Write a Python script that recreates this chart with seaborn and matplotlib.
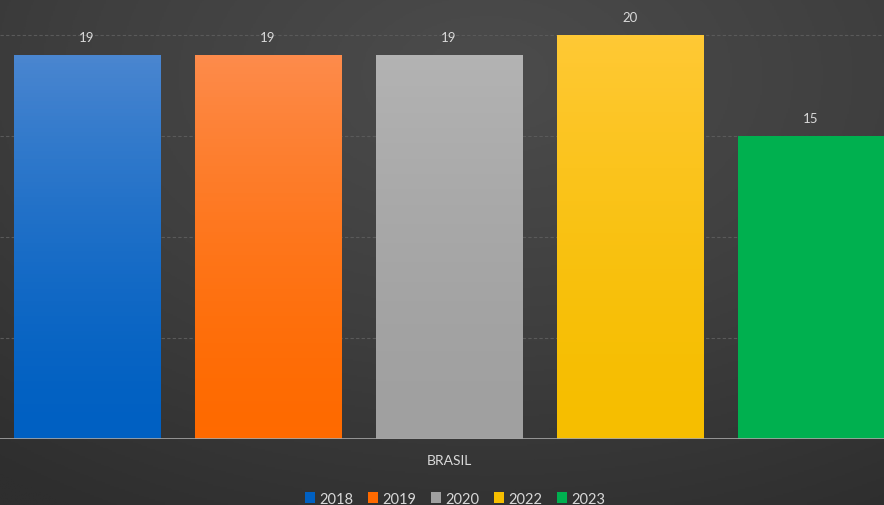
import numpy as np
import pandas as pd
import matplotlib
matplotlib.use("Agg")
import matplotlib.pyplot as plt
import matplotlib.colors as mcolors
import seaborn as sns

# donnees
pays = ["BRASIL"]
anos = ["2018", "2019", "2020", "2022", "2023"]
valores = [19, 19, 19, 20, 15]
cores_topo = ["#4a86d0", "#fd8b4b", "#b3b3b3", "#ffc935", "#00b04f"]
cores_base = ["#0060c2", "#ff6a00", "#a0a0a0", "#f6be00", "#00b050"]

df = pd.DataFrame({"pais": pays * len(anos), "ano": anos, "valor": valores})

sns.set_theme(style="dark")
plt.rcParams["font.family"] = ["Lato", "DejaVu Sans"]

fig = plt.figure(figsize=(8.84, 5.06), dpi=100)

# fond en degrade radial
bg = fig.add_axes([0, 0, 1, 1], zorder=-10)
yy, xx = np.mgrid[0:1:300j, 0:1:500j]
r = np.sqrt(((xx - 0.55) / 0.9) ** 2 + ((yy - 0.85) / 1.0) ** 2)
r = np.clip(r, 0, 1)
cmap_bg = mcolors.LinearSegmentedColormap.from_list("bg", ["#4c4c4c", "#3f3f3f", "#2e2e2e"])
bg.imshow(r, cmap=cmap_bg, origin="lower", aspect="auto", extent=[0, 1, 0, 1])
bg.axis("off")

ax = fig.add_axes([0, 66 / 506, 1, 438.3 / 506])
ax.patch.set_alpha(0)

sns.barplot(data=df, x="pais", y="valor", hue="ano", palette=cores_base,
            width=0.8, gap=0.19, ax=ax, saturation=1)

# degrade vertical dans chaque barre
for i, cont in enumerate(ax.containers):
    cm = mcolors.LinearSegmentedColormap.from_list("b%d" % i, [cores_base[i], cores_topo[i]])
    for p in cont.patches:
        x0, y0 = p.get_x(), p.get_y()
        w, h = p.get_width(), p.get_height()
        grad = np.linspace(0, 1, 100).reshape(-1, 1) ** 1.5
        ax.imshow(grad, cmap=cm, origin="lower", aspect="auto",
                  extent=[x0, x0 + w, y0, y0 + h], zorder=2)
        p.set_edgecolor("none")
    ax.bar_label(cont, padding=9, color="#d9d9d9", fontsize=9.5, zorder=3)
ax.set_xlim(-0.397, 0.3846)
ax.set_ylim(0, 21.7)

for v in [5, 10, 15, 20]:
    ax.axhline(v, color="#5a5a5a", lw=0.8, ls=(0, (3, 2)), zorder=1)
ax.axhline(0, color="#a6a6a6", lw=1.2, zorder=4)

ax.grid(False)
for s in ax.spines.values():
    s.set_visible(False)
ax.set_yticks([])
ax.set_xlabel("")
ax.set_ylabel("")
ax.tick_params(axis="x", length=0, pad=11, labelcolor="#d9d9d9", labelsize=10)

sns.move_legend(ax, "lower center", bbox_to_anchor=(0.515, -0.182), ncol=5,
                frameon=False, title=None, fontsize=10.5, handlelength=0.7,
                handleheight=0.7, handletextpad=0.3, columnspacing=1.0,
                labelcolor="#d9d9d9")
for h in ax.get_legend().legend_handles:
    h.set_edgecolor("none")

fig.savefig("out.png", dpi=100)
